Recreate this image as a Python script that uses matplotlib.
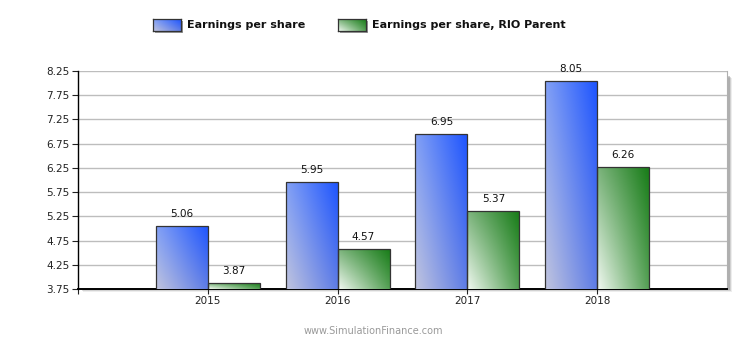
# Grouped bar chart: Earnings per share vs Earnings per share, RIO Parent
import numpy as np
import matplotlib.pyplot as plt
from matplotlib.patches import Rectangle

# Data
years = ['2015', '2016', '2017', '2018']
eps = [5.06, 5.95, 6.95, 8.05]
eps_parent = [3.87, 4.57, 5.37, 6.26]
series_names = ['Earnings per share', 'Earnings per share, RIO Parent']
y_ticks = [3.75, 4.25, 4.75, 5.25, 5.75, 6.25, 6.75, 7.25, 7.75, 8.25]

# corner colours for the gradient fills (top-left, bottom-left, top-right, bottom-right)
blue_corners = [(130, 160, 245), (192, 196, 222), (30, 85, 255), (95, 125, 230)]
green_corners = [(125, 180, 125), (242, 249, 242), (25, 125, 25), (85, 160, 85)]


def gradient(corners, n=64):
    tl, bl, tr, br = [np.array(c) / 255.0 for c in corners]
    u = np.linspace(0, 1, n)[None, :, None]   # left -> right
    v = np.linspace(1, 0, n)[:, None, None]   # top row first
    top = tl * (1 - u) + tr * u
    bot = bl * (1 - u) + br * u
    return top * v + bot * (1 - v)


W, H = 750, 350
fig = plt.figure(figsize=(7.5, 3.5), dpi=100)
fig.patch.set_facecolor('white')

# axes placed in pixel terms
left, right, top, bottom = 78, 727, 71, 289
ax = fig.add_axes([left / W, 1 - bottom / H, (right - left) / W, (bottom - top) / H])
ax.set_zorder(2)

# soft shadow behind the plot frame
for i, a in enumerate([0.35, 0.22, 0.12]):
    off = i + 1
    fig.patches.append(Rectangle(((left + 2 + off) / W, 1 - (bottom + off) / H),
                                 (right - left) / W, (bottom - top - 4) / H,
                                 transform=fig.transFigure, facecolor='#707070',
                                 edgecolor='none', alpha=a, zorder=0))

x = np.arange(1, len(years) + 1)
bw = 0.4
ymin, ymax = 3.75, 8.25

for vals, corners, shift in [(eps, blue_corners, -bw / 2), (eps_parent, green_corners, bw / 2)]:
    bars = ax.bar(x + shift, vals, bw, facecolor='none', edgecolor='#333333',
                  linewidth=0.9, zorder=4)
    img = gradient(corners)
    for b, v in zip(bars, vals):
        x0 = b.get_x()
        im = ax.imshow(img, extent=[x0, x0 + bw, ymin, v], aspect='auto',
                       interpolation='bilinear', zorder=3)
        im.set_clip_path(b)
        ax.annotate(f'{v:.2f}', (x0 + bw / 2, v), xytext=(0, 8.6),
                    textcoords='offset points', ha='center', va='center',
                    fontsize=7.5, color='#111111', zorder=5)

ax.set_xlim(0, 5)
ax.set_ylim(ymin, ymax)
ax.set_yticks(y_ticks)
ax.set_yticklabels([f'{t:.2f}' for t in y_ticks])
ax.set_xticks([0] + list(x))
ax.set_xticklabels([''] + years)
ax.tick_params(axis='y', direction='out', length=4.3, width=0.8, labelsize=7.5,
               pad=2, colors='#222222')
ax.tick_params(axis='x', direction='out', length=3.5, width=0.8, labelsize=7.5,
               pad=1.5, colors='#222222')
ax.grid(axis='y', color='#bdbdbd', linewidth=1, zorder=1)
ax.set_axisbelow(True)
ax.spines['top'].set_visible(False)
ax.spines['right'].set_color('#b0b0b0')
ax.spines['left'].set_color('black')
ax.spines['bottom'].set_color('black')
ax.spines['left'].set_linewidth(1)
ax.spines['bottom'].set_linewidth(1.4)

# legend drawn by hand so the swatches keep their gradients
legend_items = [(153, 187, blue_corners), (338, 372, green_corners)]
for (sx, tx, corners), name in zip(legend_items, series_names):
    # swatch shadow
    fig.patches.append(Rectangle(((sx + 2) / W, 1 - 33 / H), 28 / W, 12 / H,
                                 transform=fig.transFigure, facecolor='#999999',
                                 edgecolor='none', zorder=1))
    sw = fig.add_axes([sx / W, 1 - 31 / H, 28 / W, 12 / H])
    sw.set_zorder(3)
    sw.imshow(gradient(corners), extent=[0, 1, 0, 1], aspect='auto')
    sw.set_xticks([])
    sw.set_yticks([])
    for s in sw.spines.values():
        s.set_color('#333333')
        s.set_linewidth(0.9)
    fig.text(tx / W, 1 - 25 / H, name, fontsize=8, fontweight='bold',
             color='#111111', va='center', ha='left')

fig.text(373 / W, 1 - 331 / H, 'www.SimulationFinance.com', fontsize=7,
         color='#999999', ha='center', va='center')

fig.savefig('out.png', dpi=100)
